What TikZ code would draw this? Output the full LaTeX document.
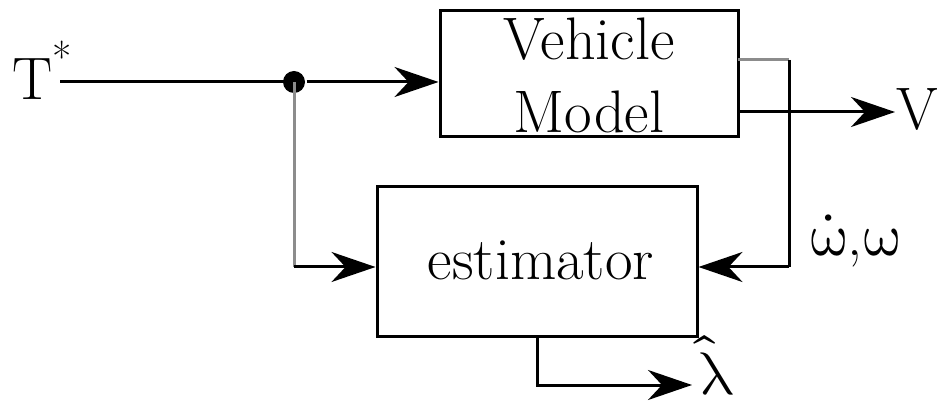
\documentclass[tikz,border=0pt]{standalone}
\usepackage{fontspec}
\usepackage{unicode-math}
\setmathfont{Latin Modern Math}
\usetikzlibrary{arrows.meta}
\begin{document}
\begin{tikzpicture}[x=1pt,y=-1pt,line width=3pt,
  conn/.style={-{Stealth[length=44pt,width=30pt,inset=14pt]}},
  graycol/.style={draw=black!45},
  blk/.style={draw,line width=3pt,inner sep=0pt},
  lbl/.style={font=\rmfamily\fontsize{60}{66}\selectfont,inner sep=0pt}]
\useasboundingbox (0,0) rectangle (940,403);
% boxes
\node[blk,minimum width=298pt,minimum height=126pt] (vm) at (589,74) {};
\node[blk,minimum width=320pt,minimum height=150pt] (est) at (537,262) {};
\node[lbl,anchor=base] (vmt1) at (589,60) {Vehicle};
\node[lbl,anchor=base] (vmt2) at (589,133) {Model};
\node[lbl,anchor=base] (estt) at (541,280) {estimator};
% labels
\node[lbl,anchor=base west] (tin) at (11,100) {T\raisebox{27pt}{\fontsize{42}{42}\selectfont *}};
\node[lbl,anchor=base west] (vlab) at (895,130) {V};
\node[lbl,anchor=base west] (wlab) at (808,256) {$\dot{\symup{\omega}}$,$\symup{\omega}$};
\node[lbl,anchor=base west] (lam) at (698,394) {$\hat{\symup{\lambda}}$};
% coordinates
\coordinate (ts) at (60,82);
\node[circle,fill,inner sep=0pt,minimum size=22pt] (j) at (294,82) {};
\coordinate (jl) at (294,267);
\coordinate (g1) at (738,60);
\coordinate (c1) at (789,60);
\coordinate (c2) at (789,267);
\coordinate (vo) at (738,112);
\coordinate (lo) at (692,385);
% connectors
\draw (ts) -- (j.center);
\draw[conn] (j) -- (vm.west |- j);
\draw[graycol] (j.center) -- (jl);
\draw[conn] (jl) -- (est.west |- jl);
\draw[graycol] (g1) -- (c1);
\draw (c1) -- (c2);
\draw[conn] (c2) -- (est.east |- c2);
\draw[conn] (vo) -- (vo -| vlab.west);
\draw[conn] (est.south) |- (lo);
\end{tikzpicture}
\end{document}
